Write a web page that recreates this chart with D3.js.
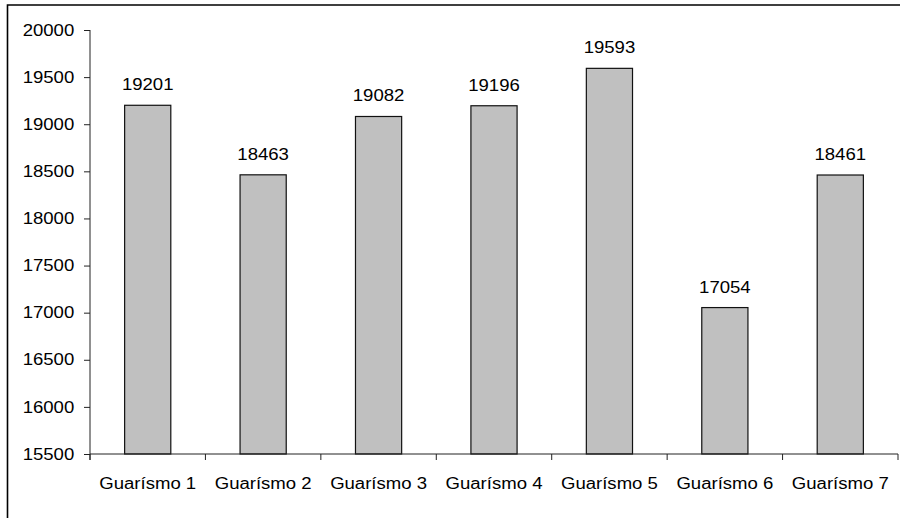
<!DOCTYPE html>
<html>
<head>
<meta charset="utf-8">
<script src="https://cdn.jsdelivr.net/npm/d3@7"></script>
<style>
  body { margin: 0; background: #fff; }
  text { font-family: "Liberation Sans", Arial, sans-serif; font-size: 16px; fill: #000; }
  .domain, .tick line { stroke: #222; }
</style>
</head>
<body>
<svg id="chart" width="900" height="518"></svg>
<script>
// chart data
var categories = ["Guarísmo 1", "Guarísmo 2", "Guarísmo 3", "Guarísmo 4", "Guarísmo 5", "Guarísmo 6", "Guarísmo 7"];
var values = [19201, 18463, 19082, 19196, 19593, 17054, 18461];
var yTicks = [15500, 16000, 16500, 17000, 17500, 18000, 18500, 19000, 19500, 20000];

var width = 900, height = 518;
var plot = {"left": 90, "right": 898, "top": 30, "bottom": 454};
var stretch = 1.16; // text in the reference is a bit wider than tall

var svg = d3.select("svg#chart");

// outer frame, cut off at right and bottom like the picture
svg.append("path")
  .attr("d", "M7.5," + (height + 2) + "V5H" + (width + 2))
  .attr("fill", "none")
  .attr("stroke", "#000")
  .attr("stroke-width", 1.6);

var x = d3.scaleBand()
  .domain(categories)
  .range([plot.left, plot.right])
  .paddingInner(0.6)
  .paddingOuter(0.3);

var y = d3.scaleLinear()
  .domain([yTicks[0], yTicks[yTicks.length - 1]])
  .range([plot.bottom, plot.top]);

// bars
svg.selectAll("rect.bar")
  .data(values)
  .enter()
  .append("rect")
  .attr("class", "bar")
  .attr("x", function(d, i) { return x(categories[i]); })
  .attr("y", function(d) { return y(d); })
  .attr("width", x.bandwidth())
  .attr("height", function(d) { return y(yTicks[0]) - y(d); })
  .attr("fill", "#c0c0c0")
  .attr("stroke", "#111")
  .attr("stroke-width", 1.2);

// value labels
svg.selectAll("text.value")
  .data(values)
  .enter()
  .append("text")
  .attr("class", "value")
  .attr("text-anchor", "middle")
  .attr("transform", function(d, i) {
    return "translate(" + (x(categories[i]) + x.bandwidth() / 2) + "," + (y(d) - 15) + ") scale(" + stretch + ",1)";
  })
  .text(function(d) { return d; });

// y axis
var yAxis = d3.axisLeft(y)
  .tickValues(yTicks)
  .tickSize(6)
  .tickPadding(7.6)
  .tickFormat(d3.format("d"));

var gy = svg.append("g")
  .attr("class", "yAxis")
  .attr("transform", "translate(" + plot.left + ",0)")
  .call(yAxis);
gy.select(".domain").attr("d", "M0," + plot.top + "V" + (plot.bottom + 6));
gy.selectAll(".tick text")
  .attr("font-size", null)
  .attr("font-family", null)
  .attr("transform", "scale(" + stretch + ",1)");
gy.attr("font-size", null).attr("font-family", null);

// x axis line and boundary ticks
var bounds = d3.range(categories.length + 1).map(function(i) { return plot.left + i * x.step(); });
var gx = svg.append("g").attr("class", "xAxis");
gx.append("line")
  .attr("x1", plot.left).attr("x2", plot.right)
  .attr("y1", plot.bottom).attr("y2", plot.bottom)
  .attr("stroke", "#222");
gx.selectAll("line.btick")
  .data(bounds)
  .enter()
  .append("line")
  .attr("class", "btick")
  .attr("x1", function(d) { return d; }).attr("x2", function(d) { return d; })
  .attr("y1", plot.bottom).attr("y2", plot.bottom + 6)
  .attr("stroke", "#222");

gx.selectAll("text.cat")
  .data(categories)
  .enter()
  .append("text")
  .attr("class", "cat")
  .attr("text-anchor", "middle")
  .attr("transform", function(d) {
    return "translate(" + (x(d) + x.bandwidth() / 2) + "," + (plot.bottom + 35) + ") scale(" + stretch + ",1)";
  })
  .text(function(d) { return d; });
</script>
</body>
</html>
